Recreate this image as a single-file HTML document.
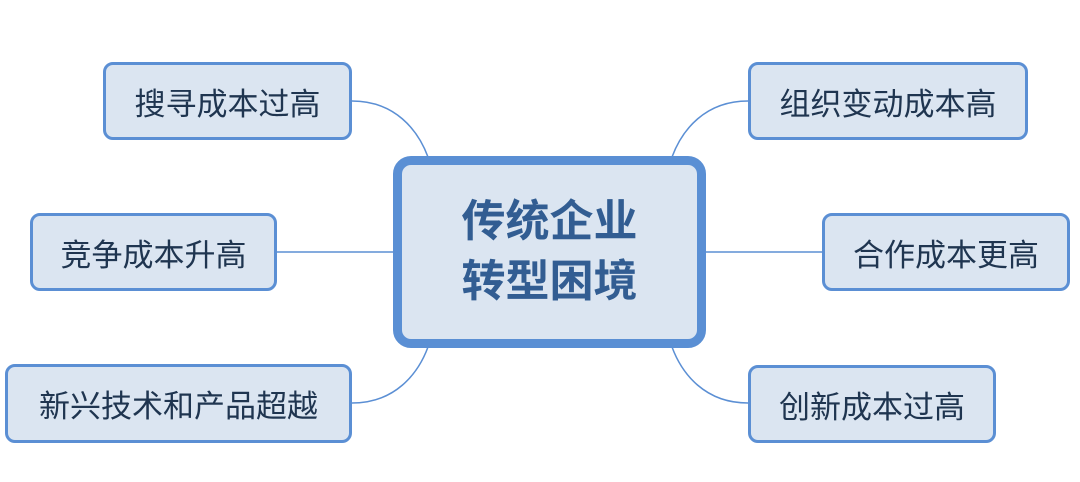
<!DOCTYPE html>
<html><head><meta charset="utf-8"><style>
body{margin:0;width:1080px;height:482px;background:#fff;position:relative;overflow:hidden;font-family:"Liberation Sans","Noto Sans CJK SC",sans-serif}
.b{position:absolute;box-sizing:border-box;background:#dbe5f1;border:3px solid #5b8fd4;border-radius:10px;display:flex;align-items:center;justify-content:center;color:#1f3550;font-size:31px;white-space:nowrap}
.c{position:absolute;box-sizing:border-box;left:393px;top:156px;width:313px;height:192px;background:#dbe5f1;border:9px solid #5a8fd4;border-radius:18px;display:flex;align-items:center;justify-content:center;text-align:center;color:#325d92;font-size:44px;font-weight:bold;line-height:60px}
svg{position:absolute;left:0;top:0}
</style></head><body>
<svg width="1080" height="482"><g fill="none" stroke="#5b8fd4" stroke-width="1.5">
<path d="M352,101 C395,101 418,130 428,157"/>
<path d="M748,101 C705,101 682,130 672,157"/>
<path d="M277,252 L394,252"/>
<path d="M706,252 L822,252"/>
<path d="M352,403 C395,403 418,374 428,347"/>
<path d="M748,403 C705,403 682,374 672,347"/>
</g></svg>
<div class="b" style="left:103px;top:62px;width:249px;height:78px">搜寻成本过高</div>
<div class="b" style="left:748px;top:62px;width:280px;height:78px">组织变动成本高</div>
<div class="b" style="left:30px;top:213px;width:247px;height:78px">竞争成本升高</div>
<div class="b" style="left:822px;top:213px;width:248px;height:78px">合作成本更高</div>
<div class="b" style="left:5px;top:364px;width:347px;height:79px">新兴技术和产品超越</div>
<div class="b" style="left:748px;top:365px;width:248px;height:78px">创新成本过高</div>
<div class="c">传统企业<br>转型困境</div>
</body></html>
